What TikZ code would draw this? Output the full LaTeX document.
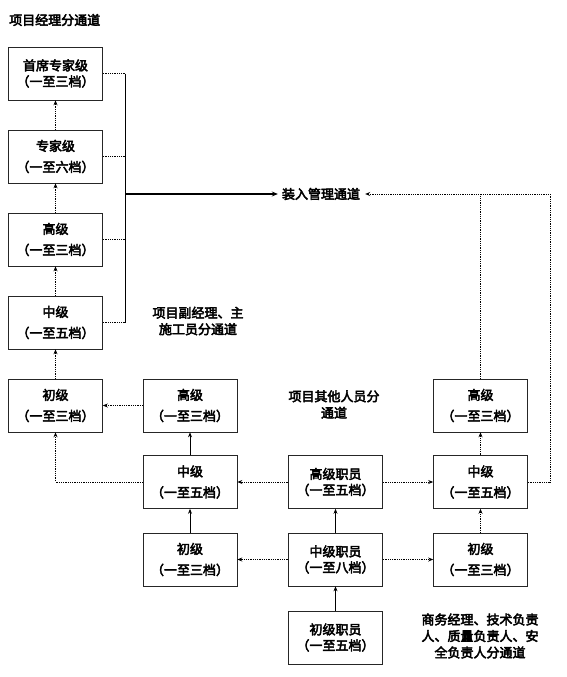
\documentclass[tikz,border=0pt]{standalone}
\usepackage{fontspec}
\setmainfont{Noto Sans CJK SC}[FakeBold=3.5]
\usetikzlibrary{arrows.meta}
\begin{document}
\begin{tikzpicture}[x=1pt,y=-1pt,
 every node/.style={inner sep=0pt, font=\fontsize{13}{16}\selectfont},
 box/.style={draw=black!85, line width=0.6pt, minimum width=94pt, minimum height=53pt, align=center, font=\fontsize{13}{21}\selectfont},
 tbox/.style={box, font=\fontsize{13}{16}\selectfont},
 dot/.style={densely dotted, line width=0.8pt},
 sol/.style={line width=0.7pt},
 tip/.style={-{Stealth[length=5pt,width=4pt]}},
 lbl/.style={align=center, font=\fontsize{13}{16.5}\selectfont}]
\useasboundingbox (0,0) rectangle (567,677);
% left column
\node[tbox] (L1) at (55.5,73.5) {首席专家级\\（一至三档）};
\node[box] (L2) at (55.5,156.5) {专家级\\（一至六档）};
\node[box] (L3) at (55.5,239.5) {高级\\（一至三档）};
\node[box] (L4) at (55.5,322.5) {中级\\（一至五档）};
\node[box] (L5) at (55.5,405.5) {初级\\（一至三档）};
% middle column
\node[box] (M1) at (190,405.5) {高级\\（一至三档）};
\node[box] (M2) at (190,482) {中级\\（一至五档）};
\node[box] (M3) at (190,559.5) {初级\\（一至三档）};
% staff column
\node[tbox] (G) at (335.5,482) {高级职员\\（一至五档）};
\node[tbox] (Z) at (335.5,559.5) {中级职员\\（一至八档）};
\node[tbox] (C) at (335.5,637.5) {初级职员\\（一至五档）};
% right column
\node[box] (R1) at (480.5,405.5) {高级\\（一至三档）};
\node[box] (R2) at (480.5,482) {中级\\（一至五档）};
\node[box] (R3) at (480.5,559.5) {初级\\（一至三档）};
% labels
\node[anchor=west] (title) at (9,20) {项目经理分通道};
\node (tgt) at (321,194) {装入管理通道};
\node[lbl] (lab1) at (198,321) {项目副经理、主\\施工员分通道};
\node[lbl] (lab2) at (334,404.5) {项目其他人员分\\通道};
\node[lbl] (lab3) at (480,636) {商务经理、技术负责\\人、质量负责人、安\\全负责人分通道};
\coordinate (bus) at (125,194);
\coordinate (rc) at (550,194);
% left column upward arrows
\draw[dot,tip] (L2) -- (L1);
\draw[dot,tip] (L3) -- (L2);
\draw[dot,tip] (L4) -- (L3);
\draw[dot,tip] (L5) -- (L4);
% bus
\draw[dot] (L1.east) -- (L1.east -| bus);
\draw[dot] (L2.east) -- (L2.east -| bus);
\draw[dot] (L3.east) -- (L3.east -| bus);
\draw[dot] (L4.east) -- (L4.east -| bus);
\draw[sol] (L1.east -| bus) -- (L4.east -| bus);
\draw[line width=1.6pt,-{Stealth[length=6pt,width=5pt]},shorten >=4pt] (bus) -- (tgt.west);
% right feeds
\draw[dot,tip,shorten >=5pt] (R2.east) -- (R2.east -| rc) -- (rc) -- (tgt.east);
\draw[dot] (R1.north) -- (R1.north |- rc);
% middle
\draw[dot,tip] (M1) -- (L5);
\draw[sol,tip] (M2) -- (M1);
\draw[dot,tip] (M2.west) -| (L5.south);
\draw[sol,tip] (M3) -- (M2);
% staff
\draw[dot,tip] (G) -- (M2);
\draw[dot,tip] (G) -- (R2);
\draw[sol,tip] (Z) -- (G);
\draw[dot,tip] (Z) -- (M3);
\draw[dot,tip] (Z) -- (R3);
\draw[sol,tip] (C) -- (Z);
% right column
\draw[dot,tip] (R2) -- (R1);
\draw[dot,tip] (R3) -- (R2);
\end{tikzpicture}
\end{document}
